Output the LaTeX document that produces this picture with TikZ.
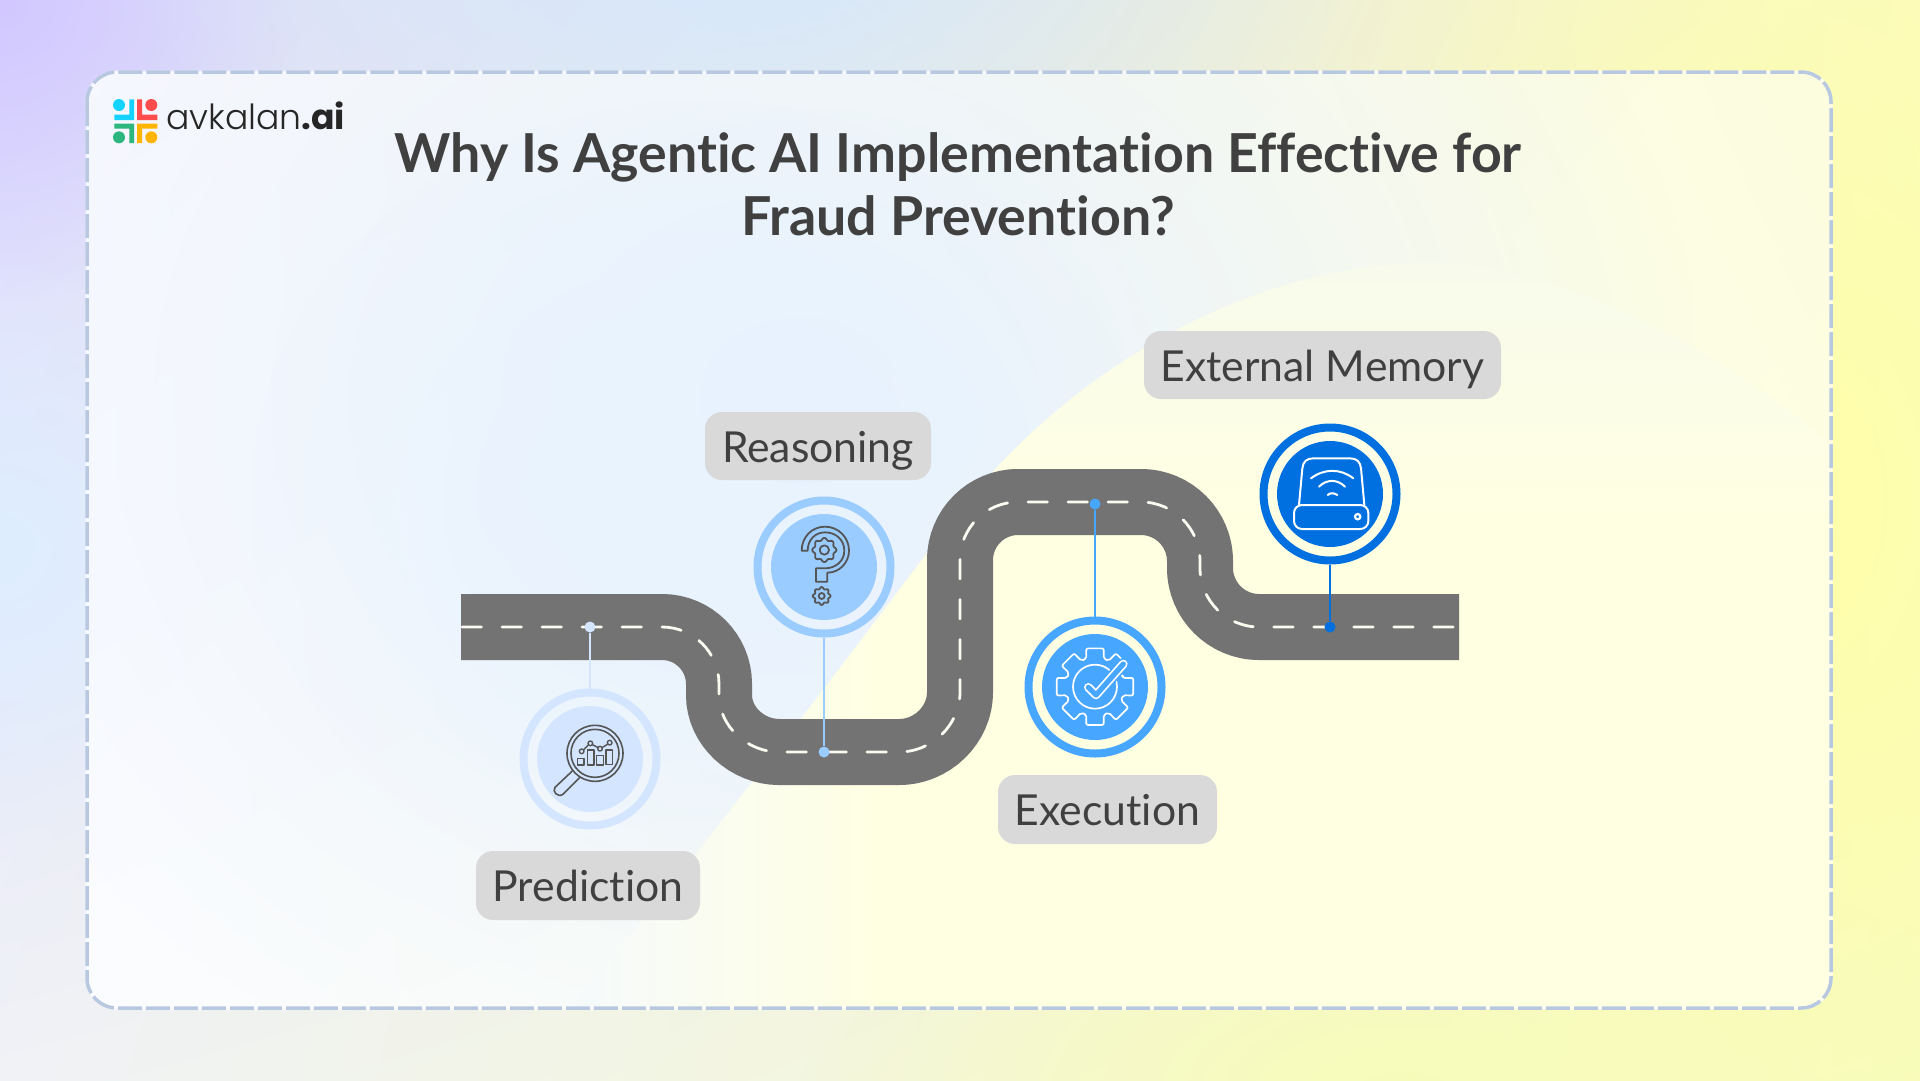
\documentclass[tikz,border=0pt]{standalone}
\usepackage{fontspec}
\usetikzlibrary{fadings,shadings}
\setmainfont{Lato}[Ligatures=CommonOff]
\newfontfamily\logof{Poppins}[UprightFont=* Light,BoldFont=* Bold]
\definecolor{inkc}{HTML}{404040}
\definecolor{roadc}{HTML}{737373}
\definecolor{lblc}{HTML}{D9D9D9}
\definecolor{bluea}{HTML}{D4E6FF}
\definecolor{blueb}{HTML}{9BCCFF}
\definecolor{bluec}{HTML}{47A6FF}
\definecolor{blued}{HTML}{0070E0}
\definecolor{icong}{HTML}{555555}
\definecolor{bgTL}{HTML}{DCDCFF}
\definecolor{bgTR}{HTML}{FBFBC0}
\definecolor{bgBL}{HTML}{F0F2F6}
\definecolor{bgBR}{HTML}{F8FBC0}
\definecolor{pnTL}{HTML}{F8F8FF}
\definecolor{pnTR}{HTML}{FCFDDE}
\definecolor{pnBL}{HTML}{FAFCFF}
\definecolor{pnBR}{HTML}{FEFFE6}
\definecolor{yelA}{HTML}{F6FAFC}
\definecolor{yelB}{HTML}{FFFFE2}
\definecolor{yelT}{HTML}{F8FBEC}
\tikzfading[name=softglow, inner color=transparent!0, outer color=transparent!100]
\tikzset{
  lbl/.style={fill=lblc,rounded corners=17pt,text=inkc,inner sep=0pt,font=\fontsize{42.7}{50}\selectfont,text height=32.5pt,text depth=0pt,align=center},
  ringn/.style={circle,draw=#1,line width=8pt,minimum size=133pt,inner sep=0pt},
  diskn/.style={circle,fill=#1,minimum size=106pt,inner sep=0pt},
  dotn/.style={circle,fill=#1,minimum size=11pt,inner sep=0pt},
  conn/.style={draw=#1,line width=2pt},
  thinic/.style={draw=#1,line width=1.6pt,line join=round,line cap=round},
}
\newcommand{\wavygear}[5]{\draw[#5] plot[smooth cycle,samples=48,domain=0:352.5,variable=\t] ({#1+(#3+#4*cos(8*\t))*cos(\t)},{#2+(#3+#4*cos(8*\t))*sin(\t)});}
\def\roadpath{(461,627) -- (662,627) .. controls (693.5,627) and (719,652.5) .. (719,684) -- (719,695) .. controls (719,726.5) and (747.5,752) .. (779,752) -- (899,752) .. controls (932,752) and (960,725) .. (960,692) -- (960,560) .. controls (960,528) and (986,502) .. (1018,502) -- (1141,502) .. controls (1173.5,502) and (1200,528.5) .. (1200,561) -- (1200,568) .. controls (1200,600.5) and (1226.5,627) .. (1259,627)}
\def\yellowshape{(570,1008) .. controls (720,830) and (860,640) .. (960,510) .. controls (1070,370) and (1250,263) .. (1430,263) .. controls (1580,263) and (1760,380) .. (1831,445) -- (1831,1008) -- cycle}
\begin{document}
\begin{tikzpicture}[x=1pt,y=-1pt]
\useasboundingbox (0,0) rectangle (1920,1080);
% outer background
\shade[upper left=bgTL,upper right=bgTR,lower left=bgBL,lower right=bgBR] (0,0) rectangle (1920,1080);
\fill[color={rgb,255:red,210;green,200;blue,255},path fading=softglow] (-300,-300) rectangle (300,300);
\fill[color={rgb,255:red,222;green,238;blue,255},path fading=softglow] (-300,250) rectangle (300,850);
\fill[color={rgb,255:red,212;green,232;blue,255},path fading=softglow] (100,-500) rectangle (1400,320);
\fill[color={rgb,255:red,255;green,255;blue,170},path fading=softglow] (1300,-300) rectangle (2300,1300);
\fill[color={rgb,255:red,248;green,252;blue,185},path fading=softglow] (800,800) rectangle (2000,1400);
% panel
\begin{scope}
\path[clip,rounded corners=30pt] (87,72) rectangle (1831,1008);
\shade[upper left=pnTL,upper right=pnTR,lower left=pnBL,lower right=pnBR] (87,72) rectangle (1831,1008);
\fill[color={rgb,255:red,232;green,242;blue,255},path fading=softglow] (-100,-350) rectangle (1700,1150);
\fill[color={rgb,255:red,232;green,243;blue,255},path fading=softglow] (250,100) rectangle (1150,900);
\begin{scope}
\path[clip] \yellowshape;
\shade[left color=yelA,right color=yelB] (570,200) rectangle (880,1008);
\fill[yelB] (879,520) rectangle (1831,1008);
\shade[top color=yelT,bottom color=yelB] (879,263) rectangle (1831,521);
\end{scope}
\end{scope}
\draw[white,line width=3.5pt,opacity=.6,rounded corners=30pt] (87,72) rectangle (1831,1008);
\draw[color={rgb,255:red,184;green,200;blue,224},line width=3.5pt,dash pattern=on 24pt off 4pt,rounded corners=30pt] (87,72) rectangle (1831,1008);
% logo
\fill[color={rgb,255:red,20;green,212;blue,255}] (119,105) circle (6);
\fill[color={rgb,255:red,255;green,77;blue,77}] (151.3,105) circle (6);
\fill[color={rgb,255:red,45;green,182;blue,125}] (119,137.3) circle (6);
\fill[color={rgb,255:red,255;green,180;blue,0}] (151.3,137.3) circle (6);
\fill[color={rgb,255:red,20;green,212;blue,255}] (129.3,99.3) -- (134,99.3) -- (134,120) -- (114.3,120) -- (114.3,114.5) -- (129.3,114.5) -- cycle;
\fill[color={rgb,255:red,255;green,77;blue,77}] (137,99.3) -- (142,99.3) -- (142,114.5) -- (157.3,114.5) -- (157.3,120) -- (137,120) -- cycle;
\fill[color={rgb,255:red,45;green,182;blue,125}] (114.3,123.5) -- (134,123.5) -- (134,143) -- (129.3,143) -- (129.3,128.5) -- (114.3,128.5) -- cycle;
\fill[color={rgb,255:red,255;green,180;blue,0}] (137,123.5) -- (157.3,123.5) -- (157.3,128.5) -- (142,128.5) -- (142,143) -- (137,143) -- cycle;
\node[anchor=base west,inner sep=0pt,text=black!85,font=\fontsize{34.6}{40}\logof] (logotext) at (166,129) {avkalan\textbf{.ai}};
% title
\node[align=center,text=inkc,font=\fontsize{53.7}{63}\bfseries\selectfont,inner sep=0pt] (title) at (958,184.5) {Why Is Agentic AI Implementation Effective for\\Fraud Prevention?};
% road
\draw[roadc,line width=66pt] \roadpath -- (1459,627);
\draw[color={rgb,255:red,250;green,250;blue,240},line width=2.8pt,line cap=round,dash pattern=on 19.5pt off 20.5pt,dash phase=-1pt] \roadpath -- (1454,627);
% stops
\node[dotn=bluea] (dotP) at (590,627) {};
\node[dotn=blueb] (dotR) at (824,752) {};
\node[dotn=bluec] (dotE) at (1095,504) {};
\node[dotn=blued] (dotX) at (1330,627) {};
\node[ringn=bluea] (ringP) at (590,759) {};
\node[ringn=blueb] (ringR) at (824,567) {};
\node[ringn=bluec] (ringE) at (1095,687) {};
\node[ringn=blued] (ringX) at (1330,494) {};
\draw[conn=bluea] (dotP) -- (ringP);
\draw[conn=blueb] (dotR) -- (ringR);
\draw[conn=bluec] (dotE) -- (ringE);
\draw[conn=blued] (dotX) -- (ringX);
\node[diskn=bluea] (diskP) at (ringP.center) {};
\node[diskn=blueb] (diskR) at (ringR.center) {};
\node[diskn=bluec] (diskE) at (ringE.center) {};
\node[diskn=blued] (diskX) at (ringX.center) {};
% prediction icon
\begin{scope}[shift={(500,680)},x=.33333pt,y=-.33333pt]
\draw[thinic=icong] (285,220) circle (84);
\draw[thinic=icong] (285,220) circle (72);
\draw[thinic=icong] (218,272) -- (165,322) .. controls (155,335) and (175,355) .. (190,342) -- (240,292);
\draw[thinic=icong,line width=1.4pt] (233,235) rectangle (252,255) (262,210) rectangle (282,255) (290,227) rectangle (310,255) (318,210) rectangle (338,253);
\draw[thinic=icong,line width=1.4pt] (250,210) -- (266,194) (277,194) -- (295,203) (306,203) -- (324,192);
\draw[thinic=icong,line width=1.4pt] (245,214) circle (7) (271,190) circle (7) (300,206) circle (7) (329,188) circle (7);
\end{scope}
% reasoning icon
\begin{scope}[shift={(740,480)},x=.33333pt,y=-.33333pt]
\draw[thinic=icong,line width=1.8pt] (185,212) .. controls (185,172) and (215,140) .. (255,140) .. controls (295,140) and (327,172) .. (327,212) .. controls (327,248) and (298,278) .. (262,278) -- (262,305) -- (228,305) -- (228,265) -- (255,265) .. controls (288,265) and (313,242) .. (313,212) .. controls (313,180) and (288,157) .. (255,157) .. controls (225,157) and (203,180) .. (203,212) -- cycle;
\wavygear{253}{210}{33}{3.5}{thinic=icong,line width=1.8pt}
\draw[thinic=icong,line width=1.8pt] (253,210) circle (14);
\wavygear{245}{348}{24}{3}{thinic=icong,line width=1.8pt}
\draw[thinic=icong,line width=1.8pt] (245,348) circle (9);
\end{scope}
% execution icon
\begin{scope}[shift={(1010,600)},x=.33333pt,y=-.33333pt]
\draw[white,line width=1.7pt,rounded corners=2pt,line join=round] ({255+88*cos(-17)},{260+88*sin(-17)})
  \foreach \a in {0,45,...,315} { -- ({255+88*cos(\a-17)},{260+88*sin(\a-17)}) -- ({255+118*cos(\a-13)},{260+118*sin(\a-13)}) -- ({255+118*cos(\a+13)},{260+118*sin(\a+13)}) -- ({255+88*cos(\a+17)},{260+88*sin(\a+17)})} -- cycle;
\draw[white,line width=1.7pt] (255,260) circle (66);
\draw[bluec,line width=12pt,line cap=round,line join=round] (235,262) -- (258,285) -- (340,192);
\draw[white,line width=8.6pt,line cap=round,line join=round] (235,262) -- (258,285) -- (340,192);
\draw[bluec,line width=5.2pt,line cap=round,line join=round] (235,262) -- (258,285) -- (340,192);
\end{scope}
% external memory icon
\begin{scope}[shift={(1250,415)},x=.33333pt,y=-.33333pt]
\draw[white,line width=2pt,rounded corners=8pt] (132,270) rectangle (355,342);
\draw[white,line width=2pt,line join=round] (147,270) -- (157,160) .. controls (159,140) and (170,130) .. (190,130) -- (300,130) .. controls (320,130) and (331,140) .. (333,160) -- (343,270);
\draw[white,line width=2pt,line cap=round] (183,190) .. controls (222,160) and (272,160) .. (310,190);
\draw[white,line width=2pt,line cap=round] (207,215) .. controls (230,192) and (262,192) .. (285,215);
\draw[white,line width=2pt,line cap=round] (233,240) .. controls (240,233) and (252,233) .. (262,240);
\draw[white,line width=2.2pt] (323,305) circle (8);
\end{scope}
% labels
\node[lbl,minimum width=224pt,minimum height=69pt] (lblP) at (588,885.5) {Prediction};
\node[lbl,minimum width=226pt,minimum height=68pt] (lblR) at (818,446) {Reasoning};
\node[lbl,minimum width=219pt,minimum height=69pt] (lblE) at (1107.5,809.5) {Execution};
\node[lbl,minimum width=357pt,minimum height=68pt] (lblX) at (1322.5,365) {External Memory};
\end{tikzpicture}
\end{document}
